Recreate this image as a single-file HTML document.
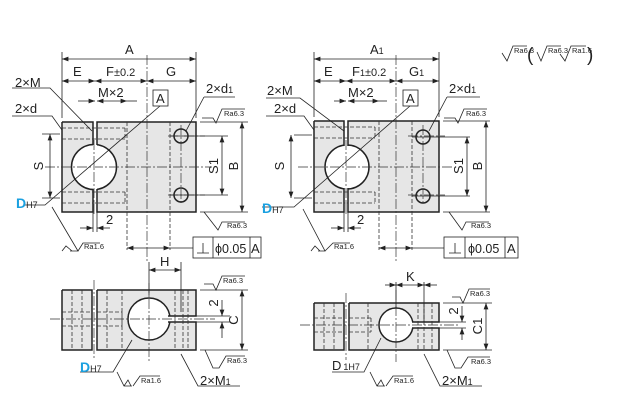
<!DOCTYPE html>
<html><head><meta charset="utf-8"><style>
html,body{margin:0;padding:0;background:#fff}
svg{display:block}
text{font-family:"Liberation Sans",sans-serif;fill:#222}
.t{font-size:13px}
.r{font-size:7.5px;font-family:"Liberation Sans",sans-serif}
.o{stroke:#222;stroke-width:1.5;fill:none}
.l{stroke:#222;stroke-width:.8;fill:none}
.d{stroke:#333;stroke-width:.8;fill:none;stroke-dasharray:4 2}
.c{stroke:#333;stroke-width:.7;fill:none;stroke-dasharray:10 2 2 2}
.g{fill:#e6e6e6}
.b{fill:#1aa0e0;font-weight:bold}
</style></head><body>
<svg width="630" height="406" viewBox="0 0 630 406" xmlns="http://www.w3.org/2000/svg">
<defs>
<marker id="a" viewBox="0 0 8 6" refX="8" refY="3" markerWidth="9" markerHeight="6" orient="auto-start-reverse"><path d="M0,0 L8,3 L0,6 z" fill="#222"/></marker>
</defs>

<!-- ============ TOP LEFT VIEW ============ -->
<rect class="g" x="62" y="122" width="134" height="90"/>
<circle cx="94" cy="167" r="22.5" fill="#fff" stroke="#222" stroke-width="1.5"/>
<rect x="93" y="121" width="4" height="92" fill="#fff"/>
<path class="o" d="M62,122 H93 V145 M97,145 V122 H196 V212 H97 V189 M93,189 V212 H62 V122"/>
<path class="d" d="M62,128 H125 M62,139 H125 M125,128 V139 M62,192 H125 M62,203 H125 M125,192 V203 M127,122 V250 M170,122 V250"/>
<path class="c" d="M147,55 V262 M45,167 H212 M94,140 V215 M181,125 V205 M168,136 H205 M168,195 H205"/>
<circle cx="181" cy="136" r="7" class="o"/>
<circle cx="181" cy="195" r="7" class="o"/>
<path class="l" d="M62,118 V52 M196,118 V52"/>
<line class="l" x1="62" y1="59" x2="196" y2="59" marker-start="url(#a)" marker-end="url(#a)"/>
<text class="t" x="125" y="54">A</text>
<line class="l" x1="62" y1="81" x2="95" y2="81" marker-start="url(#a)" marker-end="url(#a)"/>
<line class="l" x1="95" y1="81" x2="147" y2="81" marker-start="url(#a)" marker-end="url(#a)"/>
<line class="l" x1="147" y1="81" x2="196" y2="81" marker-start="url(#a)" marker-end="url(#a)"/>
<text class="t" x="73" y="76">E</text><text class="t" x="106" y="76">F<tspan font-size="11">±0.2</tspan></text><text class="t" x="166" y="76">G</text>
<line class="l" x1="78" y1="101" x2="95" y2="101" marker-end="url(#a)"/><line class="l" x1="97" y1="101" x2="127" y2="101" marker-start="url(#a)" marker-end="url(#a)"/><line class="l" x1="127" y1="101" x2="137" y2="101"/>
<text class="t" x="98" y="97">M×2</text>
<path class="l" d="M12,88 H50 L92,131"/><text class="t" x="15" y="87">2×M</text>
<path class="l" d="M12,116 H52 L62,130"/><text class="t" x="15" y="113">2×d</text>
<rect x="153" y="90" width="15" height="16" class="l"/><text class="t" x="156" y="103">A</text>
<path class="l" d="M160,106 L45,205 H25"/>
<text x="16" y="208" class="b" font-size="14">D<tspan fill="#222" font-weight="normal" font-size="9">H7</tspan></text>
<path class="l" d="M204,97 H235 M204,97 L186,131"/><text class="t" x="206" y="93">2×d<tspan font-size="9">1</tspan></text>
<path class="l" d="M202,118 L213,118 L216,123 L222,109 H245"/><text class="r" x="224" y="116">Ra6.3</text>
<path class="l" d="M42,134 H60 M42,198 H60 M170,136 H228 M170,195 H228 M200,122 H248 M200,212 H248"/>
<line class="l" x1="50" y1="134" x2="50" y2="198" marker-start="url(#a)" marker-end="url(#a)"/>
<text class="t" transform="translate(43,166) rotate(-90)" text-anchor="middle">S</text>
<line class="l" x1="222" y1="136" x2="222" y2="195" marker-start="url(#a)" marker-end="url(#a)"/>
<text class="t" transform="translate(218,166) rotate(-90)" text-anchor="middle">S1</text>
<line class="l" x1="242" y1="122" x2="242" y2="212" marker-start="url(#a)" marker-end="url(#a)"/>
<text class="t" transform="translate(238,166) rotate(-90)" text-anchor="middle">B</text>
<path class="l" d="M93,212 V232 M97,212 V232"/>
<line class="l" x1="80" y1="228" x2="93" y2="228" marker-end="url(#a)"/><line class="l" x1="110" y1="228" x2="97" y2="228" marker-end="url(#a)"/>
<text class="t" x="106" y="224">2</text>
<path class="l" d="M52,207 L78,251 H70 M62,251 L66,246 L72,251 M78,251 L83,243 H100"/><text class="r" x="84" y="249">Ra1.6</text>
<path class="l" d="M204,212 L218,230 L222,222 H245"/><text class="r" x="227" y="228">Ra6.3</text>
<line class="l" x1="127" y1="248" x2="170" y2="248" marker-start="url(#a)" marker-end="url(#a)"/>
<path class="l" d="M170,248 H193"/>
<rect x="193" y="237" width="68" height="21" class="l"/><path class="l" d="M213,237 V258 M250,237 V258 M197,253 H209 M203,243 V253"/>
<text x="215" y="253" font-size="12.5">ϕ0.05</text><text class="t" x="251" y="253">A</text>

<!-- ============ TOP RIGHT VIEW ============ -->
<rect class="g" x="314" y="121" width="125" height="91"/>
<circle cx="347" cy="167" r="22" fill="#fff" stroke="#222" stroke-width="1.5"/>
<rect x="344" y="120" width="4" height="93" fill="#fff"/>
<path class="o" d="M314,121 H344 V146 M348,146 V121 H439 V212 H348 V188 M344,188 V212 H314 V121"/>
<path class="d" d="M314,127 H375 M314,138 H375 M375,127 V138 M314,192 H375 M314,203 H375 M375,192 V203 M379,121 V250 M412,121 V250"/>
<path class="c" d="M396,55 V262 M298,167 H452 M346,140 V215 M423,125 V205 M408,136 H445 M408,195 H445"/>
<circle cx="423" cy="137" r="7" class="o"/>
<circle cx="423" cy="196" r="7" class="o"/>
<path class="l" d="M314,117 V52 M439,117 V52"/>
<line class="l" x1="314" y1="59" x2="439" y2="59" marker-start="url(#a)" marker-end="url(#a)"/>
<text class="t" x="370" y="54">A<tspan font-size="9">1</tspan></text>
<line class="l" x1="314" y1="81" x2="346" y2="81" marker-start="url(#a)" marker-end="url(#a)"/>
<line class="l" x1="346" y1="81" x2="396" y2="81" marker-start="url(#a)" marker-end="url(#a)"/>
<line class="l" x1="396" y1="81" x2="439" y2="81" marker-start="url(#a)" marker-end="url(#a)"/>
<text class="t" x="324" y="76">E</text><text class="t" x="352" y="76">F<tspan font-size="9">1</tspan><tspan font-size="11">±0.2</tspan></text><text class="t" x="409" y="76">G<tspan font-size="9">1</tspan></text>
<line class="l" x1="334" y1="101" x2="346" y2="101" marker-end="url(#a)"/><line class="l" x1="348" y1="101" x2="379" y2="101" marker-start="url(#a)" marker-end="url(#a)"/><line class="l" x1="379" y1="101" x2="387" y2="101"/>
<text class="t" x="348" y="97">M×2</text>
<path class="l" d="M266,98 H300 L344,131"/><text class="t" x="267" y="95">2×M</text>
<path class="l" d="M266,116 H304 L314,130"/><text class="t" x="274" y="113">2×d</text>
<rect x="403" y="90" width="15" height="16" class="l"/><text class="t" x="406" y="103">A</text>
<path class="l" d="M410,106 L294,207 H262"/>
<text x="262" y="213" class="b" font-size="14">D<tspan fill="#222" font-weight="normal" font-size="9">H7</tspan></text>
<path class="l" d="M447,97 H480 M447,97 L429,131"/><text class="t" x="449" y="93">2×d<tspan font-size="9">1</tspan></text>
<path class="l" d="M444,118 L455,118 L458,123 L464,109 H487"/><text class="r" x="466" y="116">Ra6.3</text>
<path class="l" d="M294,135 H312 M294,198 H312 M412,137 H470 M412,196 H470 M443,121 H490 M443,212 H490"/>
<line class="l" x1="291" y1="135" x2="291" y2="198" marker-start="url(#a)" marker-end="url(#a)"/>
<text class="t" transform="translate(284,166) rotate(-90)" text-anchor="middle">S</text>
<line class="l" x1="467" y1="137" x2="467" y2="196" marker-start="url(#a)" marker-end="url(#a)"/>
<text class="t" transform="translate(463,166) rotate(-90)" text-anchor="middle">S1</text>
<line class="l" x1="486" y1="121" x2="486" y2="212" marker-start="url(#a)" marker-end="url(#a)"/>
<text class="t" transform="translate(482,166) rotate(-90)" text-anchor="middle">B</text>
<path class="l" d="M344,212 V232 M348,212 V232"/>
<line class="l" x1="331" y1="228" x2="344" y2="228" marker-end="url(#a)"/><line class="l" x1="361" y1="228" x2="348" y2="228" marker-end="url(#a)"/>
<text class="t" x="357" y="224">2</text>
<path class="l" d="M303,209 L325,251 H318 M311,251 L315,246 L320,251 M325,251 L333,243 H350"/><text class="r" x="334" y="249">Ra1.6</text>
<path class="l" d="M449,212 L462,230 L466,222 H489"/><text class="r" x="471" y="228">Ra6.3</text>
<line class="l" x1="379" y1="248" x2="412" y2="248" marker-start="url(#a)" marker-end="url(#a)"/>
<path class="l" d="M412,248 H444"/>
<rect x="444" y="237" width="74" height="21" class="l"/><path class="l" d="M465,237 V258 M505,237 V258 M449,253 H461 M455,243 V253"/>
<text x="468" y="253" font-size="12.5">ϕ0.05</text><text class="t" x="507" y="253">A</text>

<!-- legend -->
<path class="l" d="M502,53 L507,61 L513,46 H527"/><text class="r" x="514" y="53">Ra6.3</text>
<text x="527" y="61" font-size="19">(</text>
<path class="l" d="M537,52 L541,61 L547,46 H561"/><text class="r" x="548" y="53">Ra6.3</text>
<path class="l" d="M560,54 L565,61 L571,46 H586"/><text class="r" x="572" y="53">Ra1.6</text>
<text x="587" y="61" font-size="19">)</text>

<!-- ============ BOTTOM LEFT VIEW ============ -->
<rect class="g" x="62" y="290" width="30" height="60"/>
<rect class="g" x="97" y="290" width="99" height="60"/>
<circle cx="149" cy="319" r="21" fill="#fff" stroke="#222" stroke-width="1.5"/>
<rect x="165" y="316" width="32" height="6" fill="#fff"/>
<path class="o" d="M62,290 H92 V350 H62 V290 M97,290 H196 V316 H168 M168,322 H196 V350 H97 V290"/>
<path class="d" d="M72,290 V350 M82,290 V350 M107,290 V350 M122,290 V350 M62,312 H92 M62,326 H92 M97,312 H122 M97,326 H122 M122,312 V326 M175,290 V350 M183,290 V350 M188,290 V350"/>
<path class="c" d="M50,319 H215 M149,283 V362 M94,280 V360"/>
<path class="l" d="M149,262 V295 M181,262 V312"/>
<line class="l" x1="149" y1="270" x2="181" y2="270" marker-start="url(#a)" marker-end="url(#a)"/>
<text class="t" x="160" y="266">H</text>
<path class="l" d="M200,290 H248 M200,350 H248 M196,316 H230 M196,322 H230"/>
<line class="l" x1="242" y1="290" x2="242" y2="350" marker-start="url(#a)" marker-end="url(#a)"/>
<text class="t" transform="translate(238,320) rotate(-90)" text-anchor="middle">C</text>
<line class="l" x1="222" y1="300" x2="222" y2="316" marker-end="url(#a)"/><line class="l" x1="222" y1="338" x2="222" y2="322" marker-end="url(#a)"/>
<text class="t" transform="translate(218,303) rotate(-90)" text-anchor="middle">2</text>
<path class="l" d="M204,284 L213,284 L216,290 L222,276 H245"/><text class="r" x="223" y="283">Ra6.3</text>
<path class="l" d="M205,350 L213,368 L219,368 L226,356 H245"/><text class="r" x="227" y="363">Ra6.3</text>
<path class="l" d="M80,372 H113 L132,340"/>
<text x="80" y="372" class="b" font-size="14">D<tspan fill="#222" font-weight="normal" font-size="9">H7</tspan></text>
<path class="l" d="M117,372 L124,386 H132 M124,386 L128,380 L131,386 M133,386 L140,376 H160"/><text class="r" x="141" y="383">Ra1.6</text>
<path class="l" d="M181,354 L198,386 H240"/><text class="t" x="200" y="385">2×M<tspan font-size="9">1</tspan></text>

<!-- ============ BOTTOM RIGHT VIEW ============ -->
<rect class="g" x="314" y="303" width="30" height="47"/>
<rect class="g" x="349" y="303" width="90" height="47"/>
<circle cx="396" cy="325" r="17" fill="#fff" stroke="#222" stroke-width="1.5"/>
<rect x="410" y="322" width="30" height="6" fill="#fff"/>
<path class="o" d="M314,303 H344 V350 H314 V303 M349,303 H439 V322 H412 M412,328 H439 V350 H349 V303"/>
<path class="d" d="M324,303 V350 M334,303 V350 M368,303 V350 M314,318 H344 M314,332 H344 M349,318 H371 M349,332 H371 M371,318 V332 M418,303 V350 M424,303 V350 M432,303 V350"/>
<path class="c" d="M300,325 H458 M396,290 V362 M346,293 V360"/>
<path class="l" d="M396,282 V308 M424,282 V322"/>
<line class="l" x1="385" y1="285" x2="396" y2="285" marker-end="url(#a)"/><line class="l" x1="396" y1="285" x2="424" y2="285" marker-start="url(#a)" marker-end="url(#a)"/><line class="l" x1="424" y1="285" x2="437" y2="285" marker-start="url(#a)"/>
<text class="t" x="406" y="281">K</text>
<path class="l" d="M443,303 H492 M443,350 H492 M439,322 H466 M439,328 H466"/>
<line class="l" x1="486" y1="303" x2="486" y2="350" marker-start="url(#a)" marker-end="url(#a)"/>
<text class="t" transform="translate(482,326) rotate(-90)" text-anchor="middle">C1</text>
<line class="l" x1="462" y1="306" x2="462" y2="322" marker-end="url(#a)"/><line class="l" x1="462" y1="340" x2="462" y2="328" marker-end="url(#a)"/>
<text class="t" transform="translate(458,311) rotate(-90)" text-anchor="middle">2</text>
<path class="l" d="M452,297 L460,297 L463,303 L469,289 H490"/><text class="r" x="470" y="296">Ra6.3</text>
<path class="l" d="M447,350 L455,368 L461,368 L468,357 H490"/><text class="r" x="471" y="364">Ra6.3</text>
<path class="l" d="M332,372 H364 L381,338"/><text class="t" x="332" y="370">D<tspan font-size="9" dx="2">1H7</tspan></text>
<path class="l" d="M370,372 L377,386 H385 M377,386 L381,380 L384,386 M386,386 L393,376 H413"/><text class="r" x="394" y="383">Ra1.6</text>
<path class="l" d="M424,354 L440,386 H482"/><text class="t" x="442" y="385">2×M<tspan font-size="9">1</tspan></text>
</svg>
</body></html>
